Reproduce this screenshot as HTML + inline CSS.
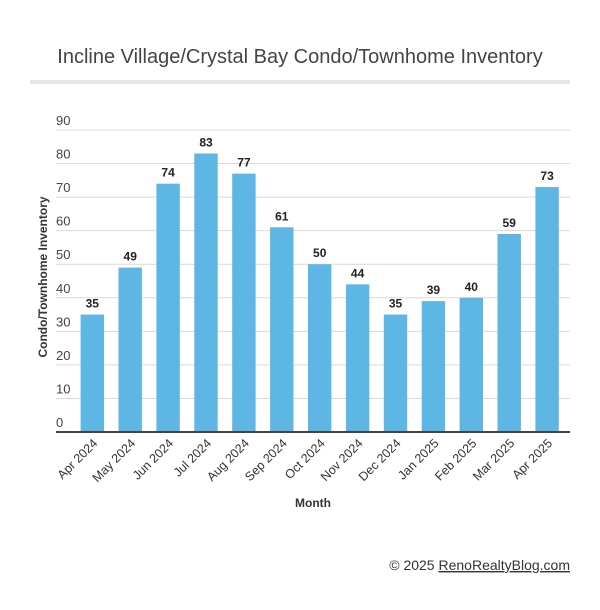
<!DOCTYPE html>
<html><head><meta charset="utf-8"><style>
body{margin:0;background:#fff;font-family:"Liberation Sans",sans-serif}
</style></head><body>
<svg width="600" height="605" xmlns="http://www.w3.org/2000/svg" font-family="Liberation Sans, sans-serif">
<text x="300" y="63" text-anchor="middle" font-size="20" fill="#444">Incline Village/Crystal Bay Condo/Townhome Inventory</text>
<rect x="30" y="80" width="540" height="4" fill="#e6e6e6"/>
<g id="grid"></g><g id="bars"></g><g id="xl"></g>
<text transform="translate(47,277) rotate(-90)" text-anchor="middle" font-size="12" font-weight="bold" fill="#333">Condo/Townhome Inventory</text>
<text x="313" y="507" text-anchor="middle" font-size="12" font-weight="bold" fill="#333">Month</text>
<text x="570" y="570" text-anchor="end" font-size="14" fill="#333">© 2025 <tspan text-decoration="underline">RenoRealtyBlog.com</tspan></text>
</svg>
<script>
const categories=["Apr 2024","May 2024","Jun 2024","Jul 2024","Aug 2024","Sep 2024","Oct 2024","Nov 2024","Dec 2024","Jan 2025","Feb 2025","Mar 2025","Apr 2025"];
const values=[35,49,74,83,77,61,50,44,35,39,40,59,73];
const yTicks=[0,10,20,30,40,50,60,70,80,90];
const NS="http://www.w3.org/2000/svg";
const y=v=>432-v*302/90;
const x=i=>92.3+i*37.9;
function mk(t,a,p){const e=document.createElementNS(NS,t);for(const k in a)e.setAttribute(k,a[k]);p.appendChild(e);return e;}
const g=document.getElementById('grid'),b=document.getElementById('bars'),xl=document.getElementById('xl');
yTicks.forEach(v=>{
 if(v>0){const l=mk('line',{x1:56,x2:570,y1:y(v),y2:y(v),stroke:'#d9d9d9','stroke-width':1},g);
 
 }
 const t=mk('text',{x:56,y:y(v)-5,'font-size':13,fill:'#444'},g);t.textContent=v;
 
 
});
values.forEach((v,i)=>{
 const r=mk('rect',{x:x(i)-11.7,y:y(v),width:23.4,height:y(0)-y(v),fill:'#5eb6e4'},b);
 
 
 const t=mk('text',{x:x(i),y:y(v)-7,'text-anchor':'middle','font-size':12,'font-weight':'bold',fill:'#222'},b);t.textContent=v;
 
 
 const c=mk('text',{transform:`translate(${x(i)+6},${y(0)+12}) rotate(-45)`,'text-anchor':'end','font-size':12.5,fill:'#333'},xl);c.textContent=categories[i];
 
 
});
const ax=mk('line',{x1:56,x2:570,y1:432,y2:432,stroke:'#444','stroke-width':2},b);


</script>
</body></html>
